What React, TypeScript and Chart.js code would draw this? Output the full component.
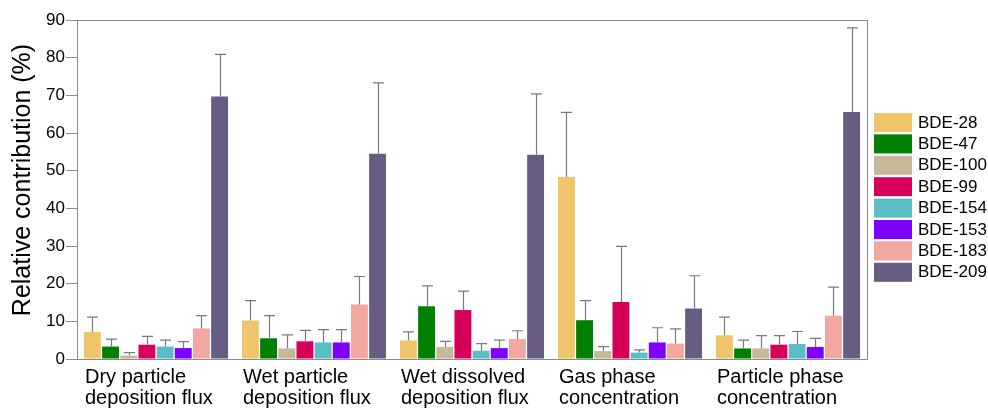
import React, { useEffect, useRef } from "react";
import { Chart, registerables } from "chart.js";

Chart.register(...registerables);

const categories: string[][] = [
  ["Dry particle", "deposition flux"],
  ["Wet particle", "deposition flux"],
  ["Wet dissolved", "deposition flux"],
  ["Gas phase", "concentration"],
  ["Particle phase", "concentration"],
];

const seriesNames = ["BDE-28", "BDE-47", "BDE-100", "BDE-99", "BDE-154", "BDE-153", "BDE-183", "BDE-209"];
const seriesColors = ["#EFC56A", "#008000", "#C8B89A", "#D6005A", "#5BBEC6", "#8000FF", "#F2A7A0", "#675C82"];

const bde28 = [7.2, 10.2, 4.9, 48.3, 6.3];
const bde47 = [3.3, 5.5, 14.0, 10.3, 2.8];
const bde100 = [0.9, 2.8, 3.2, 2.1, 2.8];
const bde99 = [3.8, 4.7, 13.0, 15.1, 3.8];
const bde154 = [3.3, 4.4, 2.2, 1.7, 4.0];
const bde153 = [2.9, 4.4, 2.9, 4.4, 3.2];
const bde183 = [8.1, 14.5, 5.3, 4.1, 11.5];
const bde209 = [69.7, 54.5, 54.2, 13.4, 65.6];

const err28 = [3.9, 5.3, 2.3, 17.2, 4.8];
const err47 = [2.0, 6.0, 5.4, 5.2, 2.2];
const err100 = [0.8, 3.6, 1.5, 1.2, 3.4];
const err99 = [2.2, 2.9, 5.0, 14.8, 2.4];
const err154 = [1.7, 3.4, 1.9, 0.7, 3.3];
const err153 = [1.7, 3.4, 2.1, 3.9, 2.3];
const err183 = [3.4, 7.4, 2.2, 3.9, 7.6];
const err209 = [11.2, 18.8, 16.2, 8.7, 22.3];

const yTicks = [0, 10, 20, 30, 40, 50, 60, 70, 80, 90];

const FONT = "'Liberation Sans', Arial, Helvetica, sans-serif";

const seriesValues = [bde28, bde47, bde100, bde99, bde154, bde153, bde183, bde209];
const seriesErrors = [err28, err47, err100, err99, err154, err153, err183, err209];

const extrasPlugin = {
  id: "extras",
  afterDatasetsDraw(chart: any) {
    const ctx = chart.ctx;
    const yScale = chart.scales.y;
    ctx.save();
    ctx.strokeStyle = "#7a7a7a";
    ctx.lineWidth = 1.2;
    chart.data.datasets.forEach((ds: any, di: number) => {
      const meta = chart.getDatasetMeta(di);
      meta.data.forEach((el: any, i: number) => {
        const top = yScale.getPixelForValue(ds.data[i] + seriesErrors[di][i]);
        const x = Math.round(el.x) + 0.5;
        ctx.beginPath();
        ctx.moveTo(x, el.y);
        ctx.lineTo(x, top);
        ctx.moveTo(x - 5.5, top);
        ctx.lineTo(x + 5.5, top);
        ctx.stroke();
      });
    });
    // frame
    const a = chart.chartArea;
    ctx.strokeStyle = "#8a8a8a";
    ctx.lineWidth = 1;
    ctx.strokeRect(Math.round(a.left) + 0.5, Math.round(a.top) + 0.5, Math.round(a.right - a.left), Math.round(a.bottom - a.top));
    // y title
    ctx.fillStyle = "#000";
    ctx.font = `25px ${FONT}`;
    ctx.textAlign = "center";
    ctx.textBaseline = "middle";
    ctx.translate(23, 180);
    ctx.rotate(-Math.PI / 2);
    ctx.fillText("Relative contribution (%)", 0, 0);
    ctx.setTransform(1, 0, 0, 1, 0, 0);
    // legend
    const lx = a.right + 7;
    ctx.font = `17px ${FONT}`;
    ctx.textAlign = "left";
    ctx.textBaseline = "middle";
    seriesNames.forEach((name, i) => {
      const y = 113 + i * 21.4;
      ctx.fillStyle = seriesColors[i];
      ctx.fillRect(lx, y, 38, 19);
      ctx.fillStyle = "#000";
      ctx.fillText(name, lx + 44, y + 10);
    });
    ctx.restore();
  },
};

export default function App() {
  const ref = useRef<HTMLCanvasElement | null>(null);
  useEffect(() => {
    if (!ref.current) return;
    const chart = new Chart(ref.current, {
      type: "bar",
      data: {
        labels: categories,
        datasets: seriesNames.map((name, i) => ({
          label: name,
          data: seriesValues[i],
          backgroundColor: seriesColors[i],
          borderWidth: 0,
          categoryPercentage: 0.92,
          barPercentage: 0.93,
        })),
      },
      options: {
        animation: false,
        responsive: true,
        maintainAspectRatio: false,
        layout: { padding: { left: 0, right: 121, top: 20, bottom: 0 } },
        plugins: { legend: { display: false }, tooltip: { enabled: false }, title: { display: false } },
        scales: {
          x: {
            grid: { display: false, drawTicks: false },
            border: { color: "#8a8a8a", width: 1 },
            ticks: {
              color: "#000",
              font: { family: FONT, size: 20, lineHeight: 1.05 },
              align: "start",
              labelOffset: -71,
              padding: 8,
              maxRotation: 0,
              autoSkip: false,
            },
            afterFit: (s: any) => { s.height = 49; },
          },
          y: {
            min: 0,
            max: 90,
            afterBuildTicks: (s: any) => { s.ticks = yTicks.map((v) => ({ value: v })); },
            grid: { drawOnChartArea: false, drawTicks: true, tickLength: 11, color: "#8a8a8a" },
            border: { color: "#8a8a8a", width: 1 },
            ticks: { color: "#000", font: { family: FONT, size: 17 }, padding: 1 },
            afterFit: (s: any) => { s.width = 77; },
          },
        },
      },
      plugins: [extrasPlugin],
    });
    return () => chart.destroy();
  }, []);
  return (
    <div style={{ position: "fixed", left: 0, top: 0, width: 988, height: 408, background: "#fff" }}>
      <canvas ref={ref} />
    </div>
  );
}
